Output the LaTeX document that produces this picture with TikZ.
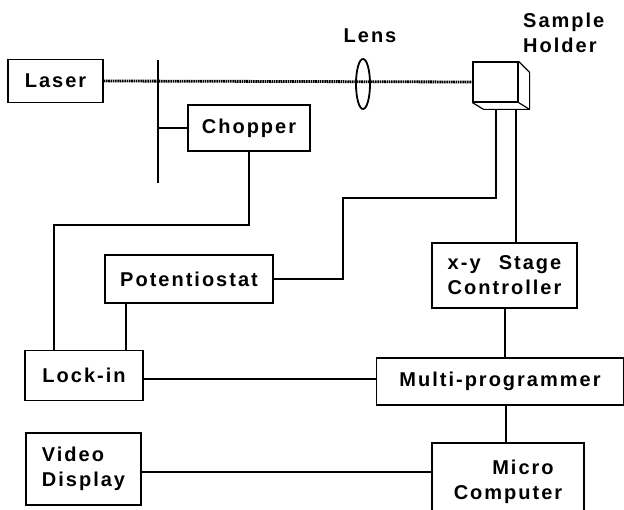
\documentclass[tikz,border=0pt]{standalone}
\usepackage{fontspec}
\setmainfont{Liberation Sans}[LetterSpace=10]
\usetikzlibrary{positioning,shapes.geometric}

\tikzset{
  unit/.style={draw, line width=1.2pt, inner sep=0pt,
    font=\fontsize{20}{25}\selectfont\bfseries},
  tag/.style={inner sep=0pt, font=\fontsize{20}{25}\selectfont\bfseries},
  wire/.style={line width=1.1pt},
  beam/.style={line width=2.8pt, dash pattern=on 1.6pt off 0.7pt},
}
\newlength\ctlwidth

\begin{document}
\begin{tikzpicture}[x=1pt,y=-1pt]
\useasboundingbox (0,0) rectangle (624,510);

% optical bench
\node[unit, minimum width=95, minimum height=43] (laser) at (55.5,81) {Laser};
\node[unit, minimum width=45, minimum height=40] (holder) at (495.5,82) {};
\node[unit, minimum width=122, minimum height=46] (chopper) at (249,128) {Chopper};
\coordinate (bladetop) at (158,60);
\coordinate (bladebot) at (158,183);

\draw[beam] (laser.east) -- (holder.west);
\node[draw, ellipse, line width=1.8pt, inner sep=0pt,
      minimum width=14, minimum height=50] (lens) at (363,84) {};
\node[tag, anchor=base] (lenstxt) at (370,43) {Lens};
\node[tag, anchor=base west, align=left] (holdertxt) at (523,53) {Sample\\Holder};

% cube depth
\draw[line width=1.2pt] (holder.north east) -- ++(11,11) -- ++(0,37) coordinate (hse)
  -- ++(-46,0) coordinate (hsw) -- (holder.south west);
\draw[line width=1.2pt] (holder.south east) -- (hse);

\draw[line width=2pt] (bladetop) -- (bladebot);
\draw[wire] (chopper.west) -- (chopper.west -| bladetop);

% electronics
\node[unit, minimum width=168, minimum height=48] (potentio) at (189,279) {Potentiostat};
\node[unit, minimum width=145, minimum height=65, align=left] (stage) at (504.5,275.5)
  {\settowidth\ctlwidth{Controller}\makebox[\ctlwidth][s]{x-y\hfill Stage}\\Controller};
\node[unit, minimum width=118, minimum height=50] (lockin) at (84,375.5) {Lock-in};
\node[unit, minimum width=247, minimum height=47] (multi) at (500,381.5) {Multi-programmer};
\node[unit, minimum width=115, minimum height=72, align=left] (video) at (83.5,469) {Video\\Display};
\node[unit, minimum width=152, minimum height=77, align=center] (micro) at (508,481.5)
  {\hspace*{30pt}Micro\\Computer};

\coordinate (c1) at (54,225);
\coordinate (h1) at (496,198);
\coordinate (h2) at (343,198);
\coordinate (h3) at (516,150);
\coordinate (p1) at (126,320);
\coordinate (l1) at (300,379);
\coordinate (m1) at (506,420);
\coordinate (s1) at (505,330);
\coordinate (v1) at (300,472);

\draw[wire] (chopper.south) |- (c1) -- (c1 |- lockin.north);
\draw[wire] (h1 |- hsw) -- (h1) -- (h2) |- (potentio.east);
\draw[wire] (h3 |- hsw) -- (h3 |- stage.north);
\draw[wire] (p1 |- potentio.south) -- (p1 |- lockin.north);
\draw[wire] (s1 |- stage.south) -- (s1 |- multi.north);
\draw[wire] (lockin.east |- l1) -- (multi.west |- l1);
\draw[wire] (m1 |- multi.south) -- (m1 |- micro.north);
\draw[wire] (video.east |- v1) -- (micro.west |- v1);
\end{tikzpicture}
\end{document}
